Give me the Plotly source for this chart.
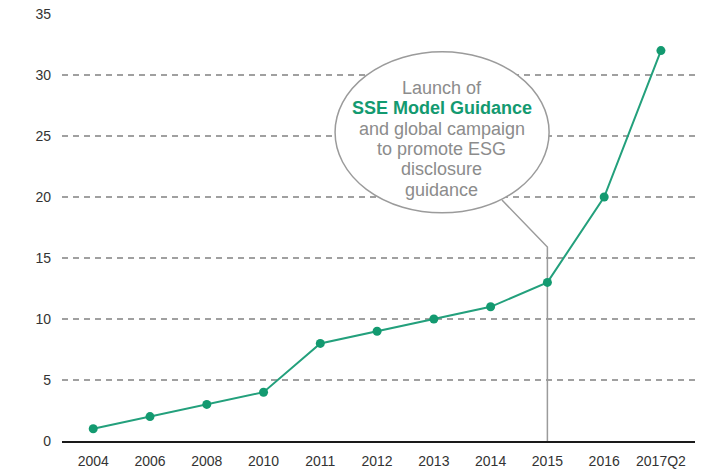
import plotly.graph_objects as go

# exchanges with ESG disclosure guidance, by year
years = ["2004", "2006", "2008", "2010", "2011", "2012", "2013", "2014", "2015", "2016", "2017Q2"]
counts = [1, 2, 3, 4, 8, 9, 10, 11, 13, 20, 32]

y_ticks = [0, 5, 10, 15, 20, 25, 30, 35]

bubble_lines = [
    "Launch of",
    "<b>SSE Model Guidance</b>",
    "and global campaign",
    "to promote ESG",
    "disclosure",
    "guidance",
]

GREEN = "#139a70"
GREY = "#9b9b9b"

fig = go.Figure()

fig.add_trace(go.Scatter(
    x=years, y=counts,
    mode="lines+markers",
    line=dict(color="#23a07c", width=2),
    marker=dict(color=GREEN, size=9),
    showlegend=False,
    cliponaxis=False,
))

# callout bubble pointing to 2015
fig.add_shape(type="circle", xref="x", yref="y",
              x0=4.26, x1=8.03, y0=18.7, y1=31.9,
              fillcolor="white", line=dict(color=GREY, width=1.5), layer="between")
fig.add_shape(type="path", xref="x", yref="y",
              path="M 7.2,19.75 L 8,15.9 L 8,0",
              line=dict(color=GREY, width=1.5), layer="between")

line_y = [28.93, 27.30, 25.57, 23.93, 22.30, 20.57]
for txt, yy in zip(bubble_lines, line_y):
    fig.add_annotation(
        x=6.14, y=yy, xref="x", yref="y", text=txt, showarrow=False,
        font=dict(family="Arial", size=18,
                  color=GREEN if "SSE" in txt else "#8c8c8c"),
    )

fig.update_xaxes(
    type="category",
    range=[-0.55, 10.6],
    showgrid=False,
    showline=True, linecolor="#1a1a1a", linewidth=2,
    ticks="", ticklabelstandoff=6, automargin=False,
    tickfont=dict(family="Arial", size=14, color="#333333"),
)
fig.update_yaxes(
    range=[0, 35],
    tickvals=y_ticks,
    showgrid=True, gridcolor="#a0a0a0", gridwidth=1.5, griddash="6px,5px",
    zeroline=False, showline=False,
    ticks="", ticklabelstandoff=10, automargin=False,
    tickfont=dict(family="Arial", size=14, color="#333333"),
)

fig.update_layout(
    width=701, height=469,
    margin=dict(l=62, r=6, t=14, b=28),
    plot_bgcolor="white", paper_bgcolor="white",
)

fig.write_html("out.html", config={"displayModeBar": False},
               post_script="document.body.style.margin='0';")
